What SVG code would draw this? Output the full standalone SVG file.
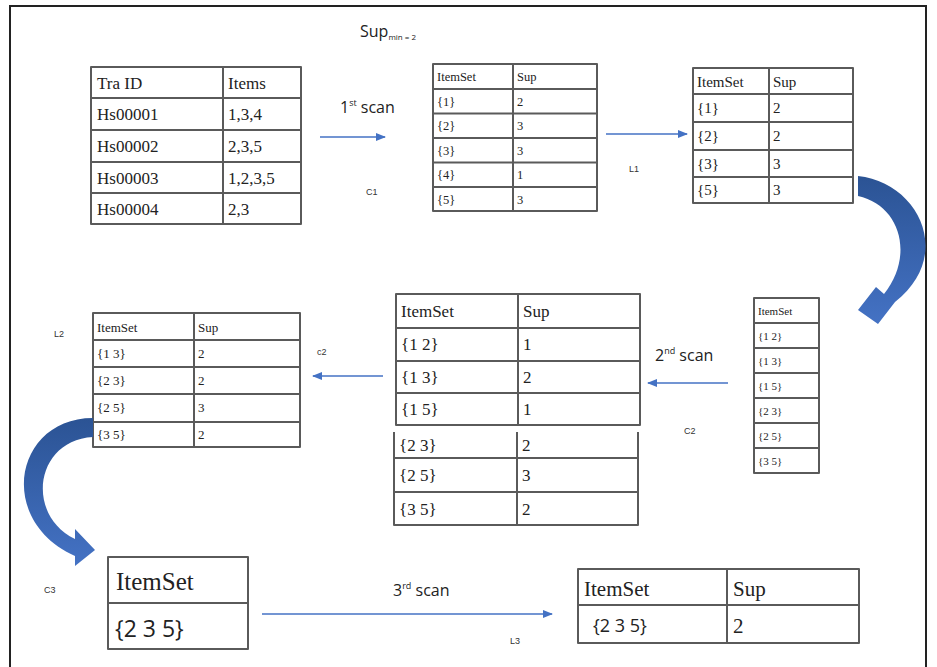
<svg xmlns="http://www.w3.org/2000/svg" width="937" height="667" viewBox="0 0 937 667">
<style>
  .grid{fill:none;stroke:#5a5a5a;stroke-width:2;stroke-linejoin:round}
  .ln{stroke:#5a5a5a;stroke-width:2}
  .t{font-family:"Liberation Serif","Times New Roman",serif;fill:#222}
  .s{font-family:"Open Sans","Liberation Sans",Arial,sans-serif;fill:#222}
  .lbl{font-family:"Liberation Sans",Arial,sans-serif;fill:#333;font-size:9px}
  .arr{stroke:#4472c4;stroke-width:1.6;fill:none;marker-end:url(#ah)}
  .big{fill:url(#bg)}
</style>
<defs>
  <marker id="ah" markerWidth="10" markerHeight="8" refX="9" refY="4" orient="auto" markerUnits="userSpaceOnUse">
    <path d="M0,0 L10,4 L0,8 Z" fill="#4472c4"/>
  </marker>
  <linearGradient id="bg" x1="0" y1="0" x2="0" y2="1">
    <stop offset="0" stop-color="#2b5394"/>
    <stop offset="1" stop-color="#4472c4"/>
  </linearGradient>
</defs>
<rect x="0" y="0" width="937" height="667" fill="#fff"/>
<g id="frame" fill="none" stroke="#222" stroke-width="2">
  <path d="M10,667 L10,6 L926,6 L926,667"/>
</g>

<g id="supmin">
  <text class="s" x="360" y="37" font-size="16">Sup<tspan font-size="8" dy="3">min = 2</tspan></text>
</g>

<g id="transactions">
  <rect class="grid" x="91" y="67" width="210" height="157"/>
  <line class="ln" x1="223" y1="67" x2="223" y2="224"/>
  <line class="ln" x1="91" y1="98" x2="301" y2="98"/>
  <line class="ln" x1="91" y1="130" x2="301" y2="130"/>
  <line class="ln" x1="91" y1="162" x2="301" y2="162"/>
  <line class="ln" x1="91" y1="193" x2="301" y2="193"/>
  <g class="t" font-size="17">
    <text x="97" y="89">Tra ID</text><text x="228" y="89">Items</text>
    <text x="97" y="120">Hs00001</text><text x="228" y="120">1,3,4</text>
    <text x="97" y="152">Hs00002</text><text x="228" y="152">2,3,5</text>
    <text x="97" y="184">Hs00003</text><text x="228" y="184">1,2,3,5</text>
    <text x="97" y="215">Hs00004</text><text x="228" y="215">2,3</text>
  </g>
</g>

<g id="C1">
  <rect class="grid" x="433" y="64" width="164" height="147"/>
  <line class="ln" x1="513" y1="64" x2="513" y2="211"/>
  <line class="ln" x1="433" y1="89" x2="597" y2="89"/>
  <line class="ln" x1="433" y1="113.5" x2="597" y2="113.5"/>
  <line class="ln" x1="433" y1="138" x2="597" y2="138"/>
  <line class="ln" x1="433" y1="162.5" x2="597" y2="162.5"/>
  <line class="ln" x1="433" y1="187" x2="597" y2="187"/>
  <g class="t" font-size="12.5">
    <text x="437" y="81">ItemSet</text><text x="517" y="81">Sup</text>
    <text x="437" y="106">{1}</text><text x="517" y="106">2</text>
    <text x="437" y="130">{2}</text><text x="517" y="130">3</text>
    <text x="437" y="155">{3}</text><text x="517" y="155">3</text>
    <text x="437" y="179">{4}</text><text x="517" y="179">1</text>
    <text x="437" y="204">{5}</text><text x="517" y="204">3</text>
  </g>
</g>

<g id="L1">
  <rect class="grid" x="693" y="68" width="160" height="135"/>
  <line class="ln" x1="769" y1="68" x2="769" y2="203"/>
  <line class="ln" x1="693" y1="94" x2="853" y2="94"/>
  <line class="ln" x1="693" y1="122" x2="853" y2="122"/>
  <line class="ln" x1="693" y1="150" x2="853" y2="150"/>
  <line class="ln" x1="693" y1="177" x2="853" y2="177"/>
  <g class="t" font-size="15">
    <text x="697" y="87">ItemSet</text><text x="773" y="87">Sup</text>
    <text x="697" y="113">{1}</text><text x="773" y="113">2</text>
    <text x="697" y="141">{2}</text><text x="773" y="141">2</text>
    <text x="697" y="169">{3}</text><text x="773" y="169">3</text>
    <text x="697" y="195">{5}</text><text x="773" y="195">3</text>
  </g>
</g>

<g id="C2">
  <rect class="grid" x="754" y="298" width="65" height="175"/>
  <line class="ln" x1="754" y1="323" x2="819" y2="323"/>
  <line class="ln" x1="754" y1="348" x2="819" y2="348"/>
  <line class="ln" x1="754" y1="373" x2="819" y2="373"/>
  <line class="ln" x1="754" y1="398" x2="819" y2="398"/>
  <line class="ln" x1="754" y1="423" x2="819" y2="423"/>
  <line class="ln" x1="754" y1="448" x2="819" y2="448"/>
  <g class="t" font-size="11">
    <text x="758" y="315">ItemSet</text>
    <text x="758" y="340">{1 2}</text>
    <text x="758" y="365">{1 3}</text>
    <text x="758" y="390">{1 5}</text>
    <text x="758" y="415">{2 3}</text>
    <text x="758" y="440">{2 5}</text>
    <text x="758" y="465">{3 5}</text>
  </g>
</g>

<g id="C2count">
  <rect class="grid" x="396" y="294" width="244" height="131"/>
  <line class="ln" x1="518" y1="294" x2="518" y2="425"/>
  <line class="ln" x1="396" y1="328" x2="640" y2="328"/>
  <line class="ln" x1="396" y1="361" x2="640" y2="361"/>
  <line class="ln" x1="396" y1="393" x2="640" y2="393"/>
  <path class="grid" d="M394,432 L394,525 L638,525 L638,432"/>
  <line class="ln" x1="517" y1="432" x2="517" y2="525"/>
  <line class="ln" x1="394" y1="458" x2="638" y2="458"/>
  <line class="ln" x1="394" y1="492" x2="638" y2="492"/>
  <g class="t" font-size="17">
    <text x="401" y="317">ItemSet</text><text x="523" y="317">Sup</text>
    <text x="401" y="350">{1 2}</text><text x="523" y="350">1</text>
    <text x="401" y="383">{1 3}</text><text x="523" y="383">2</text>
    <text x="401" y="415">{1 5}</text><text x="523" y="415">1</text>
    <text x="399" y="451">{2 3}</text><text x="522" y="451">2</text>
    <text x="399" y="481">{2 5}</text><text x="522" y="481">3</text>
    <text x="399" y="515">{3 5}</text><text x="522" y="515">2</text>
  </g>
</g>

<g id="L2">
  <rect class="grid" x="93" y="313" width="207" height="134"/>
  <line class="ln" x1="194" y1="313" x2="194" y2="447"/>
  <line class="ln" x1="93" y1="340" x2="300" y2="340"/>
  <line class="ln" x1="93" y1="367" x2="300" y2="367"/>
  <line class="ln" x1="93" y1="394" x2="300" y2="394"/>
  <line class="ln" x1="93" y1="422" x2="300" y2="422"/>
  <g class="t" font-size="13">
    <text x="97" y="332">ItemSet</text><text x="198" y="332">Sup</text>
    <text x="97" y="358">{1 3}</text><text x="198" y="358">2</text>
    <text x="97" y="385">{2 3}</text><text x="198" y="385">2</text>
    <text x="97" y="412">{2 5}</text><text x="198" y="412">3</text>
    <text x="97" y="439">{3 5}</text><text x="198" y="439">2</text>
  </g>
</g>

<g id="C3">
  <rect class="grid" x="108" y="557" width="140" height="92"/>
  <line class="ln" x1="108" y1="603" x2="248" y2="603"/>
  <text class="t" x="116" y="590" font-size="25">ItemSet</text>
  <text class="s" x="115" y="637" font-size="23">{2 3 5}</text>
</g>

<g id="L3">
  <rect class="grid" x="578" y="569" width="281" height="74"/>
  <line class="ln" x1="727" y1="569" x2="727" y2="643"/>
  <line class="ln" x1="578" y1="605" x2="859" y2="605"/>
  <text class="t" x="584" y="596" font-size="21">ItemSet</text>
  <text class="t" x="733" y="596" font-size="21">Sup</text>
  <text class="s" x="593" y="632" font-size="18">{2 3 5}</text>
  <text class="t" x="733" y="633" font-size="21">2</text>
</g>

<g id="labels">
  <text class="lbl" x="366" y="195">C1</text>
  <text class="lbl" x="629" y="172">L1</text>
  <text class="lbl" x="684" y="434">C2</text>
  <text class="lbl" x="317" y="355">c2</text>
  <text class="lbl" x="54" y="337">L2</text>
  <text class="lbl" x="44" y="593">C3</text>
  <text class="lbl" x="510" y="644">L3</text>
  <text class="s" x="340" y="113" font-size="16">1<tspan font-size="9" dy="-7">st</tspan><tspan dy="7"> scan</tspan></text>
  <text class="s" x="655" y="361" font-size="16">2<tspan font-size="9" dy="-7">nd</tspan><tspan dy="7"> scan</tspan></text>
  <text class="s" x="393" y="596" font-size="16">3<tspan font-size="9" dy="-7">rd</tspan><tspan dy="7"> scan</tspan></text>
</g>

<g id="connectors">
  <line class="arr" x1="320" y1="137" x2="385" y2="137"/>
  <line class="arr" x1="606" y1="134" x2="687" y2="134"/>
  <line class="arr" x1="728" y1="383" x2="648" y2="383"/>
  <line class="arr" x1="383" y1="376" x2="313" y2="376"/>
  <line class="arr" x1="262" y1="614" x2="552" y2="614"/>
  <path class="big" d="M858,176 C918,182 955,255 895,302 L878,324 L858,310 L876,287 L884,294 C915,255 900,205 858,196 Z"/>
  <path class="big" d="M93,418 C15,418 -5,520 75,556 L75,566 L95,550 L75,529 L75,539 C25,515 35,440 93,437 Z"/>
</g>
</svg>
